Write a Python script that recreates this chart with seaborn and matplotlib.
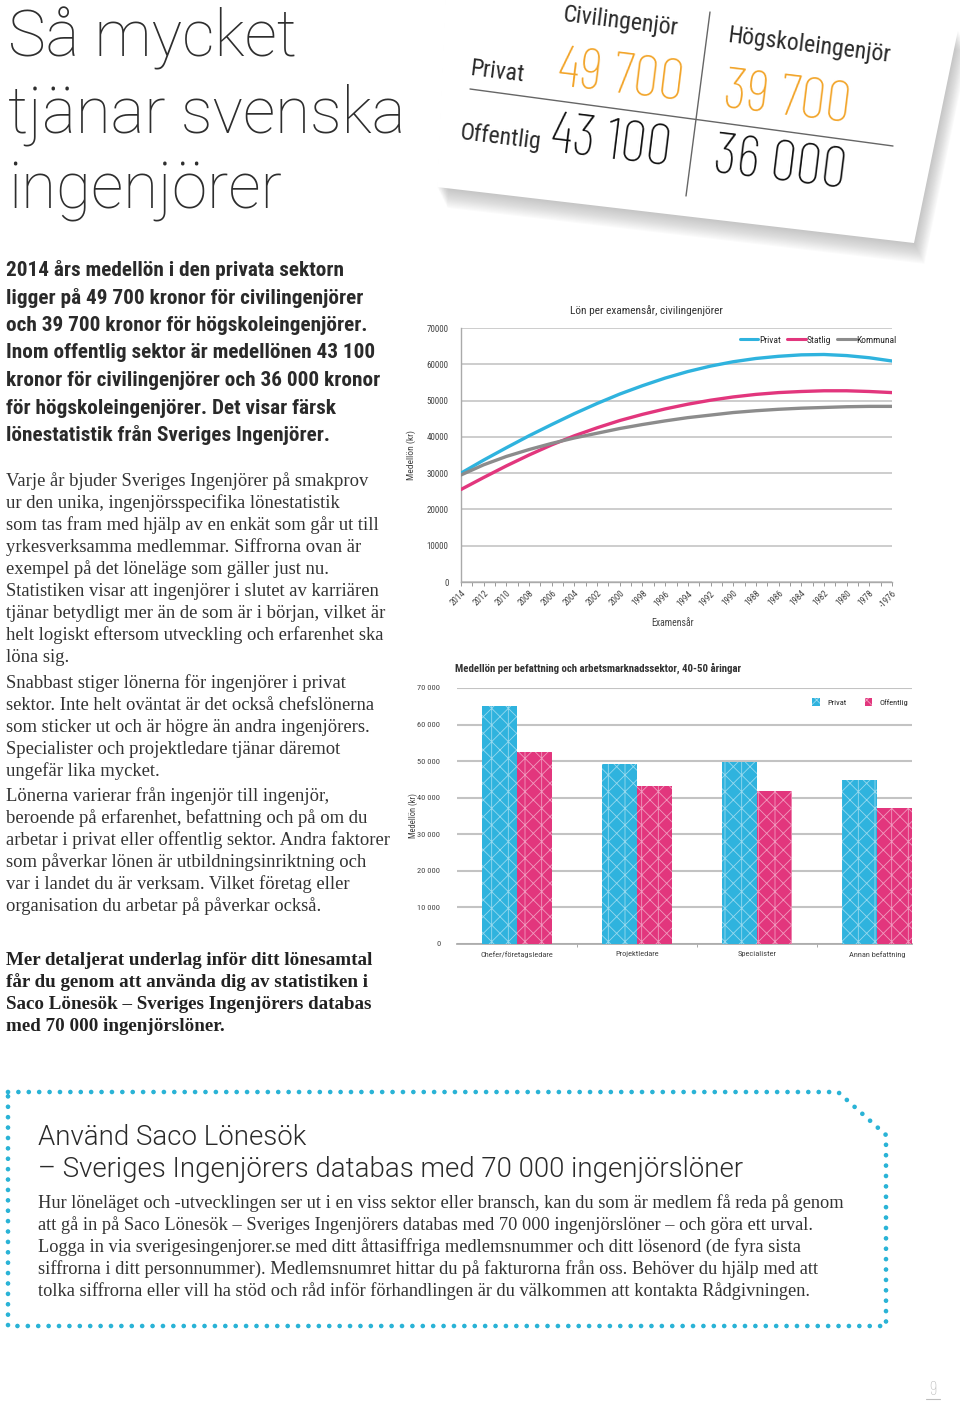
import os
import matplotlib
matplotlib.use("Agg")
import matplotlib.pyplot as plt
from matplotlib import font_manager as fm
from matplotlib.font_manager import FontProperties
from matplotlib.patches import Polygon, Patch
from matplotlib.lines import Line2D
import numpy as np
import pandas as pd
import seaborn as sns

# ---------------- data ----------------
years = ["2014", "2012", "2010", "2008", "2006", "2004", "2002", "2000", "1998", "1996",
         "1994", "1992", "1990", "1988", "1986", "1984", "1982", "1980", "1978", "-1976"]
privat = [30000, 33600, 37000, 40300, 43400, 46400, 49200, 51800, 54100, 56200,
          58000, 59500, 60700, 61600, 62200, 62600, 62700, 62400, 61800, 60900]
statlig = [25500, 28800, 32000, 35000, 37800, 40300, 42500, 44500, 46200, 47700,
           49000, 50100, 51000, 51700, 52200, 52500, 52700, 52700, 52500, 52200]
kommunal = [29500, 32300, 34600, 36500, 38200, 39700, 41000, 42300, 43400, 44400,
            45300, 46000, 46700, 47200, 47600, 47900, 48100, 48300, 48400, 48400]
line_sectors = ["Privat", "Statlig", "Kommunal"]

befattningar = ["Chefer/företagsledare", "Projektledare", "Specialister", "Annan befattning"]
bar_privat = [65100, 49300, 49900, 44800]
bar_offentlig = [52600, 43100, 41900, 37100]
bar_sectors = ["Privat", "Offentlig"]

card_cols = ["Civilingenjör", "Högskoleingenjör"]
card_rows = ["Privat", "Offentlig"]
card_privat = ["49 700", "39 700"]
card_offentlig = ["43 100", "36 000"]

title_lines = ["Så mycket", "tjänar svenska", "ingenjörer"]
lead_lines = [
    "2014 års medellön i den privata sektorn",
    "ligger på 49 700 kronor för civilingenjörer",
    "och 39 700 kronor för högskoleingenjörer.",
    "Inom offentlig sektor är medellönen 43 100",
    "kronor för civilingenjörer och 36 000 kronor",
    "för högskoleingenjörer. Det visar färsk",
    "lönestatistik från Sveriges Ingenjörer.",
]
body_p1 = [
    "Varje år bjuder Sveriges Ingenjörer på smakprov",
    "ur den unika, ingenjörsspecifika lönestatistik",
    "som tas fram med hjälp av en enkät som går ut till",
    "yrkesverksamma medlemmar. Siffrorna ovan är",
    "exempel på det löneläge som gäller just nu.",
    "Statistiken visar att ingenjörer i slutet av karriären",
    "tjänar betydligt mer än de som är i början, vilket är",
    "helt logiskt eftersom utveckling och erfarenhet ska",
    "löna sig.",
]
body_p2 = [
    "Snabbast stiger lönerna för ingenjörer i privat",
    "sektor. Inte helt oväntat är det också chefslönerna",
    "som sticker ut och är högre än andra ingenjörers.",
    "Specialister och projektledare tjänar däremot",
    "ungefär lika mycket.",
]
body_p3 = [
    "Lönerna varierar från ingenjör till ingenjör,",
    "beroende på erfarenhet, befattning och på om du",
    "arbetar i privat eller offentlig sektor. Andra faktorer",
    "som påverkar lönen är utbildningsinriktning och",
    "var i landet du är verksam. Vilket företag eller",
    "organisation du arbetar på påverkar också.",
]
bold_lines = [
    "Mer detaljerat underlag inför ditt lönesamtal",
    "får du genom att använda dig av statistiken i",
    "Saco Lönesök – Sveriges Ingenjörers databas",
    "med 70 000 ingenjörslöner.",
]
box_head = ["Använd Saco Lönesök",
            "– Sveriges Ingenjörers databas med 70 000 ingenjörslöner"]
box_body = [
    "Hur löneläget och -utvecklingen ser ut i en viss sektor eller bransch, kan du som är medlem få reda på genom",
    "att gå in på Saco Lönesök – Sveriges Ingenjörers databas med 70 000 ingenjörslöner – och göra ett urval.",
    "Logga in via sverigesingenjorer.se med ditt åttasiffriga medlemsnummer och ditt lösenord (de fyra sista",
    "siffrorna i ditt personnummer). Medlemsnumret hittar du på fakturorna från oss. Behöver du hjälp med att",
    "tolka siffrorna eller vill ha stöd och råd inför förhandlingen är du välkommen att kontakta Rådgivningen.",
]

# ---------------- style ----------------
CYAN = "#2fb3de"
PINK = "#e2367d"
GREY = "#8c8c8c"
ORANGE = "#f2a428"
TXT = "#333333"

sns.set_theme(style="white")

CONDSET = ("condensed", "semi-condensed", "extra-condensed", "ultra-condensed")
PREF = ["Roboto Condensed", "Noto Sans", "Open Sans", "Noto Sans Condensed",
        "DejaVu Sans", "Liberation Sans Narrow"]


def wnum(w):
    if isinstance(w, (int, float)):
        return int(w)
    return fm.weight_dict.get(str(w), 400)


def rank(f):
    return PREF.index(f.name) if f.name in PREF else len(PREF)


COND_FILES = [f for f in fm.fontManager.ttflist
              if (str(f.stretch) in CONDSET or "Condensed" in f.name or "Narrow" in f.name)
              and str(f.style) == "normal" and f.fname.lower().endswith((".ttf", ".otf"))]
ROBOTO_FILES = [f for f in fm.fontManager.ttflist if f.name == "Roboto" and str(f.style) == "normal"]
COND = min(COND_FILES, key=rank).name if COND_FILES else "Roboto"
plt.rcParams["font.family"] = ["Roboto", "DejaVu Sans"]


def pick_roboto(target):
    if ROBOTO_FILES:
        best = min(ROBOTO_FILES, key=lambda f: abs(wnum(f.weight) - target))
        return FontProperties(fname=best.fname)
    return FontProperties(family="DejaVu Sans")


def pick_cond(target):
    if COND_FILES:
        best = min(COND_FILES, key=lambda f: (abs(wnum(f.weight) - target), rank(f)))
        return FontProperties(fname=best.fname)
    return pick_roboto(target)


FP_THIN = pick_cond(250)          # thin condensed (card numbers)
FP_REG = pick_cond(400)           # condensed regular (card labels)
FP_BOLD = pick_cond(650)          # condensed bold (lead paragraph)
FP_RTHIN = pick_roboto(150)       # Roboto Thin (page title)
FP_RLIGHT = pick_roboto(300)      # Roboto Light (box heading)
SERIF = dict(family=["Liberation Serif", "DejaVu Serif"])

W, H = 960, 1402
fig = plt.figure(figsize=(W / 100, H / 100), dpi=100)
fig.patch.set_facecolor("white")
R = fig.canvas.get_renderer()


def fx(x):
    return x / W


def fy(y):
    return 1 - y / H


def fp_size(fp, size):
    p = fp.copy()
    p.set_size(size)
    return p


def measure(s, size, fp=None, **kw):
    if fp is not None:
        t = fig.text(0, 0, s, fontproperties=fp_size(fp, size))
    else:
        t = fig.text(0, 0, s, fontsize=size, **kw)
    bb = t.get_window_extent(renderer=R)
    t.remove()
    return bb


def fit_size(s, target, fp=None, **kw):
    bb = measure(s, 20, fp=fp, **kw)
    return 20 * target / bb.width


def put(x, y, s, size, fp=None, **kw):
    if fp is not None:
        return fig.text(fx(x), fy(y), s, fontproperties=fp_size(fp, size), **kw)
    return fig.text(fx(x), fy(y), s, fontsize=size, **kw)


# ---------------- title ----------------
tsz = fit_size(title_lines[1], 398, fp=FP_RTHIN)
for s, yb in zip(title_lines, [57, 132, 209]):
    put(8, yb, s, tsz, fp=FP_RTHIN, color="#2e2e2e", va="baseline", ha="left")

# ---------------- card ----------------
card = [(447, -40), (958, 30), (914, 243), (437, 187)]
for i in range(16, 0, -1):
    off = i * 1.3
    sh = [(x + off * 0.5, y + off) for x, y in card]
    fig.add_artist(Polygon([(fx(x), fy(y)) for x, y in sh], closed=True,
                           transform=fig.transFigure, facecolor="#8a8a8a",
                           edgecolor="none", alpha=0.035, zorder=1))
fig.add_artist(Polygon([(fx(x), fy(y)) for x, y in card], closed=True,
                       transform=fig.transFigure, facecolor="white",
                       edgecolor="none", zorder=2))
fig.add_artist(Line2D([fx(470), fx(893)], [fy(89), fy(146)], transform=fig.transFigure,
                      color="#666666", lw=1.0, zorder=3))
fig.add_artist(Line2D([fx(710), fx(686)], [fy(12), fy(196)], transform=fig.transFigure,
                      color="#666666", lw=1.0, zorder=3))
ROT = -7
nsz = fit_size(card_privat[0], 133, fp=FP_THIN)
ncap = measure("4", nsz, fp=FP_THIN).height
if ncap > 52:
    nsz *= 52 / ncap
lsz = fit_size(card_cols[1], 164, fp=FP_REG)
for s, (cx, cy) in zip(card_cols, [(620, 22), (809, 46)]):
    put(cx, cy, s, lsz, fp=FP_REG, rotation=ROT, rotation_mode="anchor", ha="center",
        va="center", color="#2a2a2a", zorder=4)
for s, (cx, cy) in zip(card_rows, [(497, 72), (500, 138)]):
    put(cx, cy, s, lsz, fp=FP_REG, rotation=ROT, rotation_mode="anchor", ha="center",
        va="center", color="#2a2a2a", zorder=4)
for s, (cx, cy) in zip(card_privat, [(621, 78), (787, 100)]):
    put(cx, cy, s, nsz, fp=FP_THIN, rotation=ROT, rotation_mode="anchor", ha="center",
        va="center", color=ORANGE, zorder=4)
for s, (cx, cy) in zip(card_offentlig, [(611, 144), (780, 166)]):
    put(cx, cy, s, nsz, fp=FP_THIN, rotation=ROT, rotation_mode="anchor", ha="center",
        va="center", color="#111111", zorder=4)

# ---------------- left text ----------------
lsz2 = fit_size(lead_lines[4], 373, fp=FP_BOLD)
for i, s in enumerate(lead_lines):
    put(6, 276 + i * 27.5, s, lsz2, fp=FP_BOLD, color="#2a2a2a", va="baseline")

bsz = fit_size(body_p1[7], 378, **SERIF)
for i, s in enumerate(body_p1):
    put(6, 486 + i * 22, s, bsz, color=TXT, va="baseline", **SERIF)
for i, s in enumerate(body_p2):
    put(6, 688 + i * 22, s, bsz, color=TXT, va="baseline", **SERIF)
for i, s in enumerate(body_p3):
    put(6, 801 + i * 22, s, bsz, color=TXT, va="baseline", **SERIF)

bbsz = fit_size(bold_lines[2], 364, fontweight="bold", **SERIF)
for i, s in enumerate(bold_lines):
    put(6, 965 + i * 22, s, bbsz, fontweight="bold", color="#222222", va="baseline", **SERIF)

# ---------------- line chart ----------------
CF = [COND, "DejaVu Sans"]
ax1 = fig.add_axes([fx(461), fy(582), (892 - 461) / W, (582 - 328) / H])
n = len(years)
df_line = pd.DataFrame({
    "pos": np.tile(np.arange(n), 3),
    "lön": privat + statlig + kommunal,
    "sektor": np.repeat(line_sectors, n),
})
pal_line = {"Privat": CYAN, "Statlig": PINK, "Kommunal": GREY}
sns.lineplot(data=df_line, x="pos", y="lön", hue="sektor", hue_order=line_sectors,
             palette=pal_line, linewidth=2.4, ax=ax1, legend=False, zorder=3)
ax1.set_xlim(0, n - 1)
ax1.set_ylim(0, 70000)
ax1.set_yticks(np.arange(0, 70001, 10000))
ax1.set_yticklabels([f"{v}" for v in range(0, 70001, 10000)])
ax1.set_xticks(np.arange(n))
ax1.set_xticklabels(years, rotation=45, ha="right", rotation_mode="anchor")
ax1.set_xticks(np.arange(0, n - 0.99, 0.5), minor=True)
for lab in ax1.get_xticklabels() + ax1.get_yticklabels():
    lab.set_fontsize(6.5)
    lab.set_color("#444444")
    lab.set_fontfamily(CF)
ax1.tick_params(axis="x", which="both", length=3, width=0.7, color="#999999", pad=2, bottom=True)
ax1.tick_params(axis="y", length=0, pad=9)
ax1.grid(axis="y", color="#c9c9c9", lw=1.3, zorder=0)
ax1.grid(axis="x", visible=False)
for sp in ["top", "right"]:
    ax1.spines[sp].set_visible(False)
for sp in ["left", "bottom"]:
    ax1.spines[sp].set_color("#aaaaaa")
    ax1.spines[sp].set_linewidth(1.0)
ax1.set_xlabel("Examensår", fontsize=7, color="#444444", family=CF)
ax1.xaxis.set_label_coords(0.49, -0.142)
ax1.set_ylabel("Medellön (kr)", fontsize=6.8, color="#444444", family=CF)
ax1.yaxis.set_label_coords(-0.104, 0.5)
ax1.text(0.43, 1.068, "Lön per examensår, civilingenjörer", transform=ax1.transAxes,
         ha="center", va="center", fontsize=8.2, color="#333333", family=CF)
handles = [Line2D([], [], color=pal_line[k], lw=2.2) for k in line_sectors]
ax1.legend(handles, line_sectors, loc="upper right", bbox_to_anchor=(1.02, 0.985), ncol=3,
           frameon=False, prop=dict(size=6.8, family=CF),
           handlelength=2.0, handletextpad=0.1, columnspacing=0.6, borderaxespad=0)

# ---------------- bar chart ----------------
plt.rcParams["hatch.linewidth"] = 0.6
ax2 = fig.add_axes([fx(457), fy(944), (912 - 457) / W, (944 - 688) / H])
df_bar = pd.DataFrame({
    "befattning": befattningar * 2,
    "lön": bar_privat + bar_offentlig,
    "sektor": np.repeat(bar_sectors, len(befattningar)),
})
sns.barplot(data=df_bar, x="befattning", y="lön", hue="sektor", hue_order=bar_sectors,
            order=befattningar, palette=[CYAN, PINK], saturation=1, width=0.585,
            ax=ax2, legend=False, zorder=3)
for p in ax2.patches:
    p.set_hatch("xx|")
    p.set_edgecolor((1, 1, 1, 0.5))
    p.set_linewidth(0)
ax2.set_xlim(-0.5, 3.29)
ax2.set_ylim(0, 70000)
ax2.set_yticks(np.arange(0, 70001, 10000))
ax2.set_yticklabels(["0" if v == 0 else f"{v // 1000} 000" for v in range(0, 70001, 10000)])
ax2.set_xticks([0.5, 1.5, 2.5], minor=True)
for lab in ax2.get_xticklabels() + ax2.get_yticklabels():
    lab.set_fontsize(6.0)
    lab.set_color("#444444")
    lab.set_fontfamily(CF)
ax2.tick_params(axis="x", which="major", length=0, pad=5)
ax2.tick_params(axis="x", which="minor", length=2, width=0.7, color="#aaaaaa", bottom=True)
ax2.tick_params(axis="y", length=0, pad=12)
ax2.grid(axis="y", color="#c3c3c3", lw=1.5, zorder=0)
ax2.grid(axis="x", visible=False)
for sp in ["top", "right", "left"]:
    ax2.spines[sp].set_visible(False)
ax2.spines["bottom"].set_color("#aaaaaa")
ax2.set_xlabel("")
ax2.set_ylabel("Medellön (kr)", fontsize=6.2, color="#444444", family=CF)
ax2.yaxis.set_label_coords(-0.085, 0.5)
ax2.text(-0.004, 1.078, "Medellön per befattning och arbetsmarknadssektor, 40-50 åringar",
         transform=ax2.transAxes, ha="left", va="center", fontsize=7.8, fontweight="bold",
         color="#333333", family=CF)
bh = [Patch(facecolor=c, edgecolor=(1, 1, 1, 0.5), hatch="xx", lw=0) for c in [CYAN, PINK]]
ax2.legend(bh, bar_sectors, loc="upper right", bbox_to_anchor=(1.0, 0.975), ncol=2,
           frameon=False, prop=dict(size=6.0, family=CF),
           handlelength=0.9, handleheight=1.1, handletextpad=0.9, columnspacing=2.2,
           borderaxespad=0)

# ---------------- dotted box ----------------
bx = [8, 838, 886, 886, 8, 8]
by = [1092, 1092, 1135, 1326, 1326, 1092]
fig.add_artist(Line2D([fx(x) for x in bx], [fy(y) for y in by], transform=fig.transFigure,
                      color="#2ab3d6", lw=3.4, linestyle=(0, (0.001, 2.2)),
                      dash_capstyle="round", solid_capstyle="round"))
hsz = fit_size(box_head[1], 705, fp=FP_RLIGHT)
for s, yb in zip(box_head, [1145, 1177]):
    put(38, yb, s, hsz, fp=FP_RLIGHT, color="#2a2a2a", va="baseline")
bsz2 = fit_size(box_body[0], 805, **SERIF)
for i, s in enumerate(box_body):
    put(38, 1208 + i * 22, s, bsz2, color=TXT, va="baseline", **SERIF)

# page number
put(933, 1395, "9", 14, fp=FP_THIN, color="#bdbdbd", ha="center", va="baseline")
fig.add_artist(Line2D([fx(926), fx(940)], [fy(1399), fy(1399)], transform=fig.transFigure,
                      color="#bdbdbd", lw=0.8))

fig.savefig("out.png", dpi=100, facecolor="white")
